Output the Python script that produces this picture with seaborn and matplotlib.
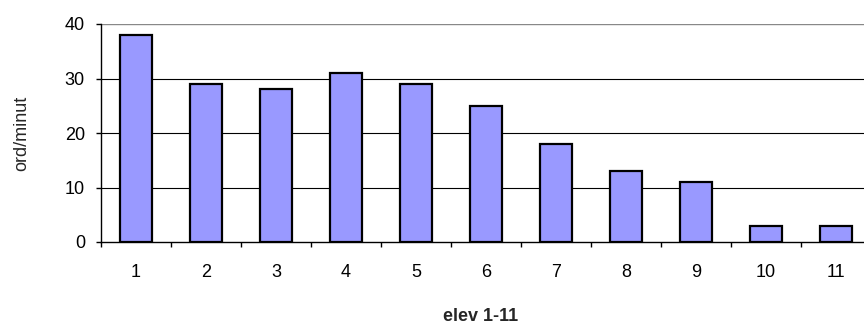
import matplotlib
matplotlib.use("Agg")
import matplotlib.pyplot as plt
import seaborn as sns
import pandas as pd

elever = ["1", "2", "3", "4", "5", "6", "7", "8", "9", "10", "11"]
ord_per_minut = [38, 29, 28, 31, 29, 25, 18, 13, 11, 3, 3]

sns.set_theme(style="white")
plt.rcParams["font.family"] = ["Liberation Sans", "DejaVu Sans"]

df = pd.DataFrame({"elev": elever, "ord": ord_per_minut})

fig = plt.figure(figsize=(8.64, 3.22), dpi=100)
# plot area runs slightly past the right edge of the figure
ax = fig.add_axes([101 / 864, 1 - 242 / 322, 770 / 864, 218 / 322])

for y in (10, 20, 30):
    ax.axhline(y, color="black", lw=0.8, zorder=0)
ax.axhline(40, color="#888888", lw=1.0, zorder=0)

sns.barplot(data=df, x="elev", y="ord", ax=ax, color="#9999FF", saturation=1,
            width=0.45, edgecolor="black", linewidth=1.6, zorder=2)

ax.set_xlim(-0.5, len(elever) - 0.5)
ax.set_ylim(0, 40)
ax.set_yticks([0, 10, 20, 30, 40])

for s in ("top", "right"):
    ax.spines[s].set_visible(False)
for s in ("left", "bottom"):
    ax.spines[s].set_color("black")
    ax.spines[s].set_linewidth(1.0)

fs = 13
# category ticks sit between the bars
ax.set_xticks([i - 0.5 for i in range(len(elever) + 1)], minor=True)
ax.tick_params(axis="x", which="minor", length=3.6, width=1.0, color="black", direction="out", bottom=True)
ax.tick_params(axis="x", which="major", length=0, pad=16, labelsize=fs, colors="black")
ax.tick_params(axis="y", length=3.6, width=1.0, color="black", direction="out", left=True,
               pad=8, labelsize=fs, labelcolor="black")

ax.set_xlabel("elev 1-11", fontsize=fs, fontweight="bold")
ax.xaxis.set_label_coords((481 - 101) / 770, -(308 - 242) / 218)
ax.set_ylabel("ord/minut", fontsize=fs)
ax.yaxis.set_label_coords((30 - 101) / 770, 0.5)

fig.savefig("out.png", dpi=100)
